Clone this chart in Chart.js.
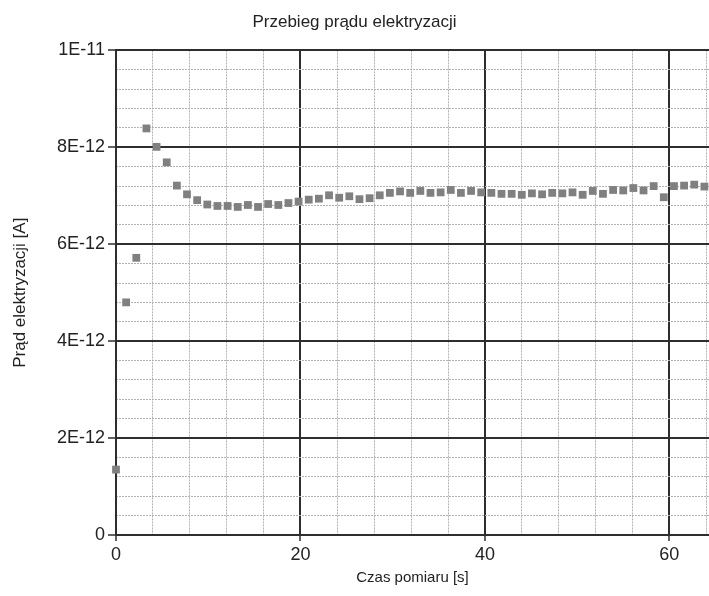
<!DOCTYPE html>
<html>
<head>
<meta charset="utf-8">
<title>Przebieg prądu elektryzacji</title>
<script src="https://cdn.jsdelivr.net/npm/chart.js@4.4.1/dist/chart.umd.min.js"></script>
<style>
  html, body { margin: 0; padding: 0; background: #fff; }
  #wrap { width: 709px; height: 596px; }
</style>
</head>
<body>
<div id="wrap"><canvas id="pradChart" width="709" height="596"></canvas></div>
<script>
// czas pomiaru [s]
var czas = [
    0, 1.1, 2.2, 3.3, 4.4, 5.5, 6.6, 7.7, 8.8, 9.9,
    11, 12.1, 13.2, 14.3, 15.4, 16.5, 17.6, 18.7, 19.8, 20.9,
    22, 23.1, 24.2, 25.3, 26.4, 27.5, 28.6, 29.7, 30.8, 31.9,
    33, 34.1, 35.2, 36.3, 37.4, 38.5, 39.6, 40.7, 41.8, 42.9,
    44, 45.1, 46.2, 47.3, 48.4, 49.5, 50.6, 51.7, 52.8, 53.9,
    55, 56.1, 57.2, 58.3, 59.4, 60.5, 61.6, 62.7, 63.8
];
// prąd elektryzacji, w jednostkach 1E-12 A
var prad = [
    1.35, 4.80, 5.72, 8.39, 8.01, 7.69, 7.21, 7.03, 6.91, 6.82,
    6.79, 6.79, 6.77, 6.81, 6.77, 6.83, 6.81, 6.85, 6.88, 6.92,
    6.94, 7.01, 6.96, 6.99, 6.93, 6.95, 7.01, 7.06, 7.09, 7.06,
    7.10, 7.06, 7.07, 7.12, 7.06, 7.10, 7.07, 7.06, 7.04, 7.04,
    7.02, 7.05, 7.03, 7.06, 7.05, 7.07, 7.02, 7.10, 7.04, 7.12,
    7.11, 7.16, 7.11, 7.20, 6.97, 7.20, 7.21, 7.23, 7.19
];
// opisy osi Y (co 2E-12)
var yEtykiety = ['0', '2E-12', '4E-12', '6E-12', '8E-12', '1E-11'];

var punkty = [];
for (var i = 0; i < czas.length; i++) {
    punkty.push({x: czas[i], y: prad[i]});
}

var ciemna = '#2e2e2e';
var kropki = '#b2b2b2';
var tekst = '#222';
var xMax = 64.3;

Chart.defaults.font.family = '"Liberation Sans", Arial, sans-serif';

// linie pomocnicze nie rysują się tam, gdzie jest linia główna
function pomocnicza(krok) {
    return function(ctx) {
        var v = ctx.tick.value / krok;
        return Math.abs(v - Math.round(v)) < 1e-6 ? 'rgba(0,0,0,0)' : kropki;
    };
}

// tylko pełne wielokrotności kroku, bez dodatkowej kreski na końcu osi
function tylkoKrok(krok) {
    return function(scale) {
        scale.ticks = scale.ticks.filter(function(t) {
            var v = t.value / krok;
            return Math.abs(v - Math.round(v)) < 1e-6;
        });
    };
}

new Chart(document.getElementById('pradChart'), {
    type: 'scatter',
    data: {
        datasets: [{
            data: punkty,
            pointStyle: 'rect',
            pointRadius: 5.5,
            pointHoverRadius: 5.5,
            backgroundColor: '#808080',
            borderWidth: 0,
            clip: false
        }]
    },
    options: {
        responsive: false,
        animation: false,
        layout: { padding: 0, autoPadding: false },
        plugins: {
            legend: { display: false },
            tooltip: { enabled: false },
            title: {
                display: true,
                text: 'Przebieg prądu elektryzacji',
                color: tekst,
                font: { size: 17, weight: 'normal' },
                padding: { top: 12, bottom: 18 }
            }
        },
        scales: {
            x: {
                type: 'linear',
                position: 'bottom',
                min: 0,
                max: xMax,
                ticks: { stepSize: 20, includeBounds: false, color: tekst, font: { size: 18 }, padding: 3, maxRotation: 0 },
                grid: { color: ciemna, lineWidth: 2, tickLength: 6, tickColor: ciemna, tickWidth: 1.5 },
                border: { color: ciemna, width: 2 },
                title: { display: true, text: 'Czas pomiaru [s]', color: tekst, font: { size: 15 }, padding: { top: 0, bottom: 9 } },
                afterBuildTicks: tylkoKrok(20),
                afterFit: function(s) { s.height = 61; s.paddingRight = 0; }
            },
            xPom: {
                type: 'linear',
                position: 'bottom',
                min: 0,
                max: xMax,
                ticks: { stepSize: 4, includeBounds: false, display: false },
                grid: { color: pomocnicza(20), lineWidth: 1, drawTicks: false },
                border: { display: false, dash: [2, 1] },
                afterBuildTicks: tylkoKrok(4),
                afterFit: function(s) { s.height = 0; s.paddingRight = 0; }
            },
            y: {
                type: 'linear',
                position: 'left',
                min: 0,
                max: 10,
                ticks: {
                    stepSize: 2,
                    color: tekst,
                    font: { size: 18 },
                    padding: 3,
                    callback: function(v) { return yEtykiety[Math.round(v / 2)]; }
                },
                grid: { color: ciemna, lineWidth: 2, tickLength: 8, tickColor: ciemna, tickWidth: 1.5 },
                border: { color: ciemna, width: 2 },
                title: { display: true, text: 'Prąd elektryzacji [A]', color: tekst, font: { size: 17 }, padding: { top: 10, bottom: 0 } },
                afterFit: function(s) { s.width = 116; }
            },
            yPom: {
                type: 'linear',
                position: 'left',
                min: 0,
                max: 10,
                ticks: { stepSize: 0.4, display: false },
                grid: { color: pomocnicza(2), lineWidth: 1, drawTicks: false },
                border: { display: false, dash: [2, 1] },
                afterFit: function(s) { s.width = 0; }
            }
        }
    }
});
</script>
</body>
</html>
